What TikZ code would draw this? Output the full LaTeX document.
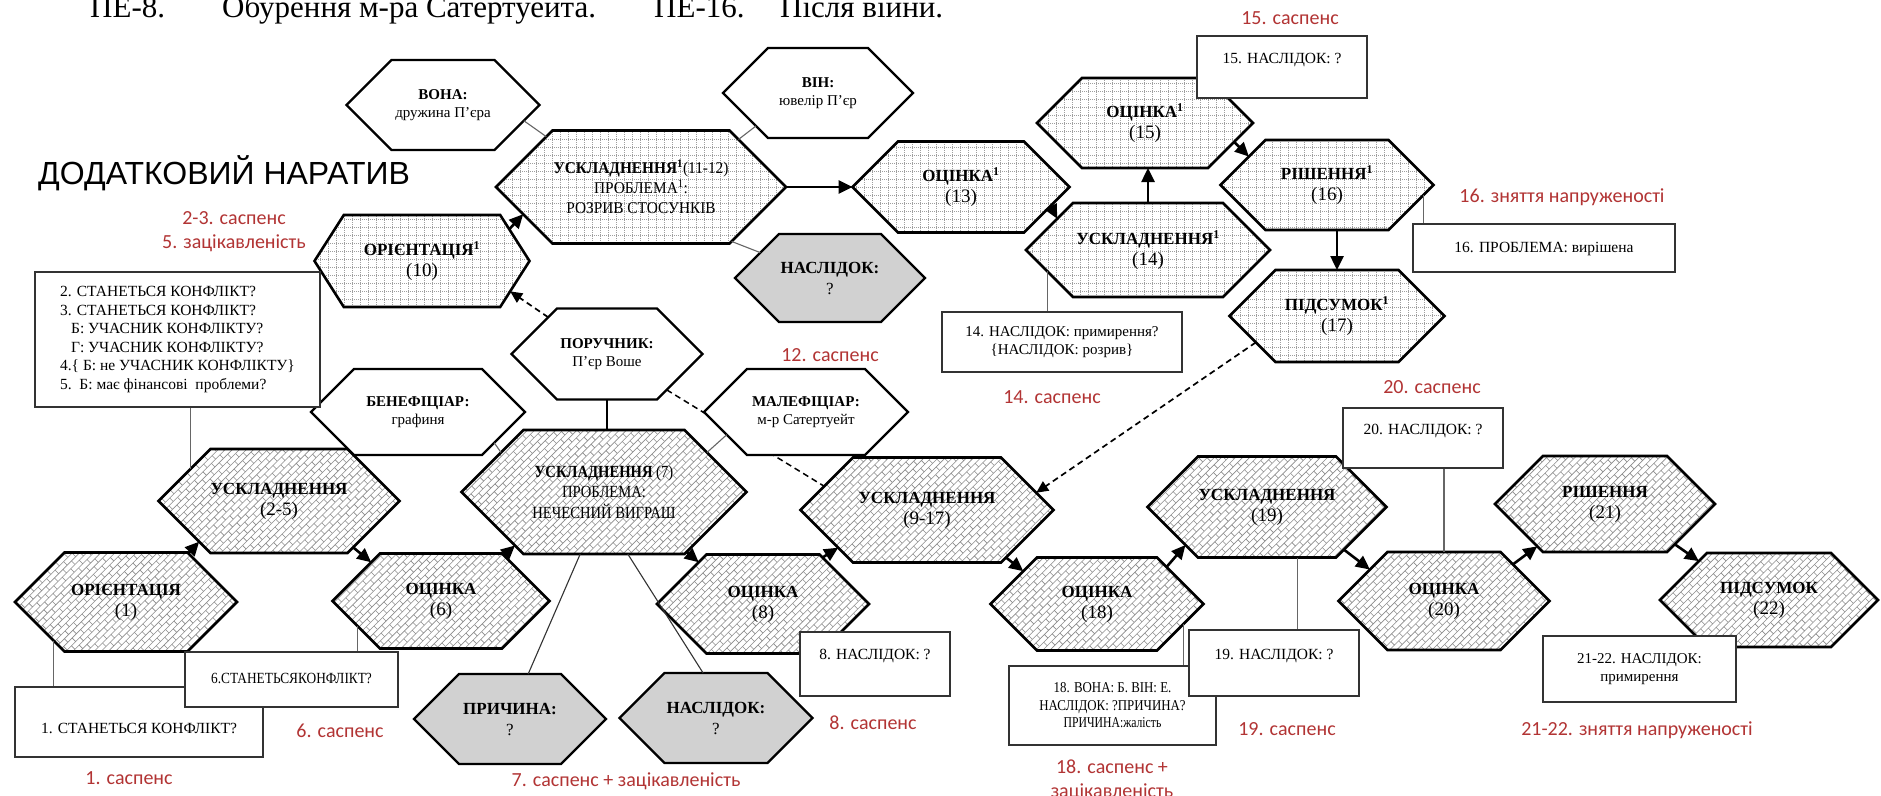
\documentclass[tikz,border=0pt]{standalone}
\usepackage{fontspec}
\setmainfont{Liberation Serif}
\newfontfamily\tagfont{Carlito}
\newfontfamily\titlefont{Liberation Sans}
\newfontfamily\narrowser[FakeStretch=0.86]{Liberation Serif}
\newfontfamily\slimser[FakeStretch=0.93]{Liberation Serif}
\newfontfamily\tightser[FakeStretch=0.78]{Liberation Serif}
\usetikzlibrary{shapes.symbols,patterns.meta,arrows.meta,backgrounds}
\definecolor{tagred}{RGB}{178,52,52}

% diagonal brick fill of the main-line hexagons
\tikzdeclarepattern{
  name=diagbrick,
  bounding box={(-1pt,-1pt) and (13pt,11pt)},
  tile size={(12pt,10pt)},
  tile transformation={rotate=45},
  code={\draw[line width=0.6pt] (0pt,0pt) -- (12pt,0pt) (0pt,5pt) -- (12pt,5pt)
        (0pt,0pt) -- (0pt,5pt) (6pt,5pt) -- (6pt,10pt);}
}
% dotted grid fill of the additional-line hexagons
\tikzdeclarepattern{
  name=dotgrid,
  bounding box={(-1pt,-1pt) and (9pt,9pt)},
  tile size={(8pt,8pt)},
  code={\draw[line width=0.5pt, dash pattern=on 1pt off 1pt] (0pt,0pt) -- (8pt,0pt) (0pt,0pt) -- (0pt,8pt);}
}

\newcommand\hexlbl[2]{{\bfseries #1}\\{\fontsize{19}{21}\selectfont #2}}

\begin{document}
\begin{tikzpicture}[x=1pt,y=-1pt,
  hexa/.style={shape=signal, signal to=east and west, signal pointer angle=90,
    inner sep=0pt, outer sep=0pt, align=center, draw=black, line width=2.6pt,
    font=\fontsize{17}{21}\selectfont},
  hw/.style 2 args={minimum width=#1pt, minimum height=#2pt},
  mainhex/.style={hexa, preaction={fill=white}, pattern=diagbrick, pattern color=black!45},
  addhex/.style={hexa, preaction={fill=white}, pattern=dotgrid, pattern color=black!38},
  rolehex/.style={hexa, fill=white, line width=2.4pt, font=\fontsize{15}{18}\selectfont},
  openhex/.style={hexa, fill=black!18, line width=2.4pt, font=\fontsize{17}{21}\selectfont},
  notebox/.style={draw=black!80, line width=1.3pt, fill=white, inner sep=3pt,
    font=\fontsize{15.5}{18.5}\selectfont, text height=11pt, text depth=3pt},
  tagtext/.style={font=\tagfont\fontsize{20}{24}\selectfont, text=tagred, align=center, inner sep=0pt},
  flowarrow/.style={line width=2.6pt, -{Triangle[length=14pt,width=13pt]}},
  hintarrow/.style={line width=1.7pt, dash pattern=on 6pt off 4pt, -{Triangle[length=12pt,width=11pt]}},
  hintline/.style={line width=1.5pt, dash pattern=on 6pt off 4pt},
  connline/.style={line width=1.1pt, draw=black!60}
]
\useasboundingbox (0,0) rectangle (1881,795);

% headings
\begin{scope}[every node/.style={anchor=base west, inner sep=0pt, font=\fontsize{31}{36}\selectfont}]
  \node (hd1) at (90,17) {ПЕ-8.};
  \node (hd2) at (222,17) {Обурення м-ра Сатертуейта.};
  \node (hd3) at (654,17) {ПЕ-16.};
  \node (hd4) at (780,17) {Після війни.};
\end{scope}
\node[anchor=base west, inner sep=0pt, font=\titlefont\fontsize{32}{36}\selectfont] (title) at (38,184) {ДОДАТКОВИЙ НАРАТИВ};

% main narrative
\node[mainhex, hw={222}{99}] (H1) at (126,602) {\hexlbl{ОРІЄНТАЦІЯ}{(1)}};
\node[mainhex, hw={230}{104}] (H2) at (279,501) {\hexlbl{УСКЛАДНЕННЯ}{(2-5)}};
\node[mainhex, hw={217}{95}] (H3) at (441,601) {\hexlbl{ОЦІНКА}{(6)}};
\node[mainhex, hw={285}{124}, font=\narrowser\fontsize{17}{20.5}\selectfont] (H4) at (604,492)
  {{\bfseries УСКЛАДНЕННЯ} (7)\\ПРОБЛЕМА:\\НЕЧЕСНИЙ ВИГРАШ};
\node[mainhex, hw={212}{99}] (H5) at (763,604) {\hexlbl{ОЦІНКА}{(8)}};
\node[mainhex, hw={253}{105}] (H6) at (927,510) {\hexlbl{УСКЛАДНЕННЯ}{(9-17)}};
\node[mainhex, hw={213}{93}] (H7) at (1097,604) {\hexlbl{ОЦІНКА}{(18)}};
\node[mainhex, hw={239}{101}] (H8) at (1267,507) {\hexlbl{УСКЛАДНЕННЯ}{(19)}};
\node[mainhex, hw={211}{98}] (H9) at (1444,601) {\hexlbl{ОЦІНКА}{(20)}};
\node[mainhex, hw={220}{96}] (H10) at (1605,504) {\hexlbl{РІШЕННЯ}{(21)}};
\node[mainhex, hw={218}{94}] (H11) at (1769,600) {\hexlbl{ПІДСУМОК}{(22)}};

% additional narrative
\node[addhex, hw={215}{92}, signal pointer angle=115] (A1) at (422,261) {\hexlbl{ОРІЄНТАЦІЯ\textsuperscript{1}}{(10)}};
\node[addhex, hw={290}{113}, font=\slimser\fontsize{16.5}{20}\selectfont] (A2) at (641,187)
  {{\bfseries УСКЛАДНЕННЯ\textsuperscript{1}}(11-12)\\ПРОБЛЕМА\textsuperscript{1}:\\РОЗРИВ СТОСУНКІВ};
\node[addhex, hw={217}{91}] (A3) at (961,187) {\hexlbl{ОЦІНКА\textsuperscript{1}}{(13)}};
\node[addhex, hw={244}{94}] (A4) at (1148,250) {\hexlbl{УСКЛАДНЕННЯ\textsuperscript{1}}{(14)}};
\node[addhex, hw={216}{90}] (A5) at (1145,123) {\hexlbl{ОЦІНКА\textsuperscript{1}}{(15)}};
\node[addhex, hw={213}{90}] (A6) at (1327,185) {\hexlbl{РІШЕННЯ\textsuperscript{1}}{(16)}};
\node[addhex, hw={215}{92}] (A7) at (1337,316) {\hexlbl{ПІДСУМОК\textsuperscript{1}}{(17)}};

% participants
\node[rolehex, hw={193}{90}] (W1) at (443,105) {\textbf{ВОНА:}\\дружина П’єра};
\node[rolehex, hw={190}{90}] (W2) at (818,93) {\textbf{ВІН:}\\ювелір П’єр};
\node[rolehex, hw={191}{91}] (W3) at (607,354) {\textbf{ПОРУЧНИК:}\\П’єр Воше};
\node[rolehex, hw={214}{86}] (W4) at (418,412) {\textbf{БЕНЕФІЦІАР:}\\графиня};
\node[rolehex, hw={204}{86}] (W5) at (806,412) {\textbf{МАЛЕФІЦІАР:}\\м-р Сатертуейт};

% open questions
\node[openhex, hw={190}{88}] (G1) at (830,278) {\textbf{НАСЛІДОК:}\\?};
\node[openhex, hw={192}{90}] (G2) at (510,719) {\textbf{ПРИЧИНА:}\\?};
\node[openhex, hw={193}{90}] (G3) at (716,718) {\textbf{НАСЛІДОК:}\\?};

% notes
\node[notebox, minimum width=248pt, minimum height=70pt, text height=33pt, text depth=11pt] (B1) at (139,722) {1. СТАНЕТЬСЯ КОНФЛІКТ?};
\node[notebox, minimum width=213pt, minimum height=55pt, font=\narrowser\fontsize{15.5}{18.5}\selectfont] (B6) at (291.5,679.5) {6.СТАНЕТЬСЯКОНФЛІКТ?};
\node[notebox, align=left, minimum width=285pt, minimum height=135pt, text height=, text depth=] (B2) at (177.5,339.5)
  {2. СТАНЕТЬСЯ КОНФЛІКТ?\\3. СТАНЕТЬСЯ КОНФЛІКТ?\\\hspace*{11pt}Б: УЧАСНИК КОНФЛІКТУ?\\\hspace*{11pt}Г: УЧАСНИК КОНФЛІКТУ?\\4.\{ Б: не УЧАСНИК КОНФЛІКТУ\}\\5.\ \ Б: має фінансові\ \ проблеми?};
\node[notebox, minimum width=150pt, minimum height=64pt, text depth=21pt] (B8) at (875,664) {8. НАСЛІДОК: ?};
\node[notebox, align=center, minimum width=240pt, minimum height=60pt, text height=, text depth=, font=\fontsize{15}{18.5}\selectfont] (B14) at (1062,342)
  {14. НАСЛІДОК: примирення?\\\{НАСЛІДОК: розрив\}};
\node[notebox, minimum width=170pt, minimum height=62pt, text depth=19pt] (B15) at (1282,67) {15. НАСЛІДОК: ?};
\node[notebox, minimum width=262pt, minimum height=48pt] (B16) at (1544,248) {16. ПРОБЛЕМА: вирішена};
\node[notebox, minimum width=160pt, minimum height=60pt, text depth=19pt] (B20) at (1423,438) {20. НАСЛІДОК: ?};
\node[notebox, align=center, minimum width=207pt, minimum height=79pt, text height=, text depth=, font=\narrowser\fontsize{15}{17.5}\selectfont] (B18) at (1112.5,705.5)
  {18. ВОНА: Б. ВІН: Е.\\НАСЛІДОК: ?ПРИЧИНА?\\{\tightser ПРИЧИНА:жалість}};
\node[notebox, minimum width=170pt, minimum height=66pt, text depth=19pt] (B19) at (1274,663) {19. НАСЛІДОК: ?};
\node[notebox, align=center, minimum width=193pt, minimum height=66pt, text height=, text depth=, font=\fontsize{15}{18}\selectfont] (B2122) at (1639.5,669)
  {21-22. НАСЛІДОК:\\примирення};

% tension labels
\node[tagtext] (t1) at (129,778) {1. саспенс};
\node[tagtext] (t6) at (340,731) {6. саспенс};
\node[tagtext] (t25) at (234,232) {2-3. саспенс\\5. зацікавленість};
\node[tagtext] (t12) at (830,355) {12. саспенс};
\node[tagtext] (t7) at (626,781) {7. саспенс + зацікавленість};
\node[tagtext] (t8) at (873,723) {8. саспенс};
\node[tagtext] (t14) at (1052,397) {14. саспенс};
\node[tagtext] (t15) at (1290,18) {15. саспенс};
\node[tagtext] (t16) at (1562,197) {16. зняття напруженості};
\node[tagtext] (t20) at (1432,387) {20. саспенс};
\node[tagtext] (t19) at (1287,729) {19. саспенс};
\node[tagtext] (t18) at (1112,780) {18. саспенс +\\зацікавленість};
\node[tagtext] (t2122) at (1637,730) {21-22. зняття напруженості};

% note and role links
\draw[connline] (H1.208) -- (H1.208 |- B1.north);
\draw[connline] (H3.197) -- (H3.197 |- B6.north);
\draw[connline] (H2.160) -- (H2.160 |- B2.south);
\draw[connline] (W1.349) -- (A2.152);
\draw[connline] (W2.208) -- (A2.26);
\draw[connline] (G1.160) -- (A2.329);
\draw[connline, draw=black] (W3.south) -- (W3.south |- H4.north);
\draw[connline] (W4.338) -- (H4.159);
\draw[connline] (W5.196) -- (H4.21);
\draw[connline, draw=black!80] (H4.249) -- (G2.68);
\draw[connline, draw=black!80] (H4.291) -- (G3.106);
\draw[connline] (A4.192) -- (A4.192 |- B14.north);
\draw[connline] (A6.354) -- (A6.354 |- B16.north);
\draw[connline] (H9.north) -- (H9.north |- B20.south);
\draw[connline] (H8.301) -- (H8.301 |- B19.north);
\draw[connline] (H7.347) -- (H7.347 |- B18.north);

% story flow
\draw[flowarrow] (H1.38) -- (H2.207);
\draw[flowarrow] (H2.328) -- (H3.151);
\draw[flowarrow] (H3.36) -- (H4.211);
\draw[flowarrow] (H4.324) -- (H5.147);
\draw[flowarrow] (H5.38) -- (H6.203);
\draw[flowarrow] (H6.329) -- (H7.156);
\draw[flowarrow] (H7.28) -- (H8.205);
\draw[flowarrow] (H8.331) -- (H9.157);
\draw[flowarrow] (H9.28) -- (H10.212);
\draw[flowarrow] (H10.330) -- (H11.151);
\draw[flowarrow] (A1.20) -- (A2.193);
\draw[flowarrow] (A2.east) -- (A3.west);
\draw[flowarrow] (A3.348) -- (A4.161);
\draw[flowarrow] (A4.north) -- (A4.north |- A5.south);
\draw[flowarrow] (A5.348) -- (A6.160);
\draw[flowarrow] (A7.north |- A6.south) -- (A7.north);

% embedding links
\draw[hintarrow] (W3.148) -- (A1.341);
\draw[hintarrow] (A7.198) -- (H6.9);

\begin{scope}[on background layer]
  \fill[white] (0,0) rectangle (1881,795);
  \draw[hintline] (W3.329) -- (H6.167);
\end{scope}
\end{tikzpicture}
\end{document}
